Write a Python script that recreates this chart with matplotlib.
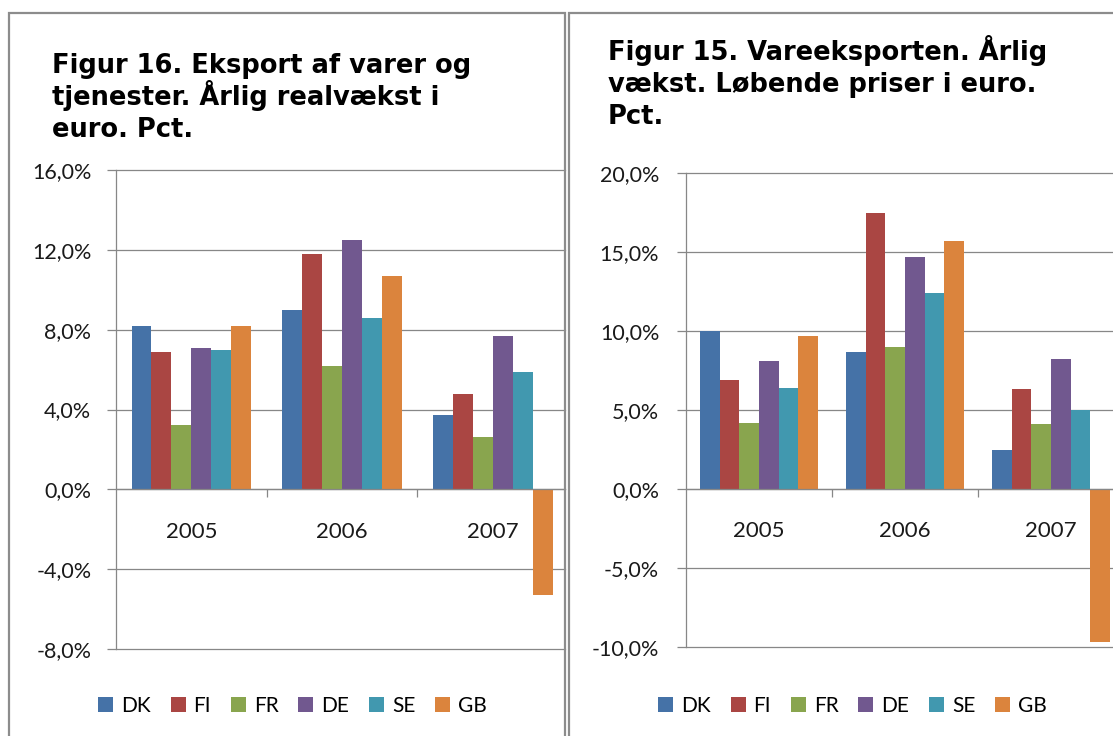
import matplotlib
matplotlib.use("Agg")
import matplotlib.pyplot as plt
import numpy as np
from matplotlib.patches import Rectangle
from matplotlib.ticker import FuncFormatter, FixedLocator

years = ["2005", "2006", "2007"]
countries = ["DK", "FI", "FR", "DE", "SE", "GB"]
colors = ["#4572A7", "#AA4643", "#89A54E", "#71588F", "#4198AF", "#DB843D"]

# Figur 16: eksport af varer og tjenester, aarlig realvaekst (pct.), one list per country
real_growth = [
    [8.2, 9.0, 3.7],    # DK
    [6.9, 11.8, 4.8],   # FI
    [3.2, 6.2, 2.6],    # FR
    [7.1, 12.5, 7.7],   # DE
    [7.0, 8.6, 5.9],    # SE
    [8.2, 10.7, -5.3],  # GB
]
real_ticks = [-8, -4, 0, 4, 8, 12, 16]

# Figur 15: vareeksporten, aarlig vaekst i loebende priser (pct.)
goods_growth = [
    [10.0, 8.7, 2.5],   # DK
    [6.9, 17.5, 6.3],   # FI
    [4.2, 9.0, 4.1],    # FR
    [8.1, 14.7, 8.2],   # DE
    [6.4, 12.4, 5.0],   # SE
    [9.7, 15.7, -9.7],  # GB
]
goods_ticks = [-10, -5, 0, 5, 10, 15, 20]

title16 = ["Figur 16. Eksport af varer og", "tjenester. Årlig realvækst i", "euro. Pct."]
title15 = ["Figur 15. Vareeksporten. Årlig", "vækst. Løbende priser i euro.", "Pct."]

W, H = 1113, 736
GRID = "#878787"
BORDER = "#8c8c8c"

plt.rcParams["font.family"] = ["Lato", "DejaVu Sans"]
fig = plt.figure(figsize=(W / 100, H / 100), dpi=100)


def frac(l, t, r, b):
    return [l / W, 1 - b / H, (r - l) / W, (b - t) / H]


def pct(v, pos):
    return ("%.1f%%" % v).replace(".", ",")


def draw_panel(rect, cat_px, values, ticks, bar_w, ypad, title, title_pos, legend_x, frame):
    ax = fig.add_axes(frac(*rect))
    x = np.arange(len(years))
    n = len(countries)
    for i in range(n):
        ax.bar(x + (i - (n - 1) / 2) * bar_w, values[i], bar_w,
               color=colors[i], label=countries[i], zorder=2)

    ax.set_xlim(-0.5, -0.5 + (rect[2] - rect[0]) / cat_px)
    ax.set_ylim(ticks[0], ticks[-1])
    ax.set_yticks(ticks)
    ax.yaxis.set_major_formatter(FuncFormatter(pct))
    ax.yaxis.grid(True, color=GRID, lw=0.9)
    for gl in ax.get_ygridlines():
        gl.set_clip_on(False)
    ax.set_axisbelow(True)

    for s in ["top", "right"]:
        ax.spines[s].set_visible(False)
    ax.spines["left"].set_color(GRID)
    ax.spines["left"].set_linewidth(0.9)
    ax.spines["bottom"].set_position(("data", 0))
    ax.spines["bottom"].set_color(GRID)
    ax.spines["bottom"].set_linewidth(0.9)

    ax.set_xticks(x)
    ax.set_xticklabels(years)
    ax.xaxis.set_minor_locator(FixedLocator([0.5, 1.5]))
    ax.tick_params(axis="x", which="major", length=0, pad=30.5, labelsize=16, labelcolor="#1a1a1a")
    ax.tick_params(axis="x", which="minor", length=5.4, width=0.9, color=GRID, direction="out")
    for lab in ax.get_xticklabels():
        lab.set_va("center")
    ax.tick_params(axis="y", length=6.8, width=0.9, color=GRID, direction="out",
                   pad=ypad, labelsize=15.5, labelcolor="#1a1a1a")

    ax.legend(loc="center", bbox_to_anchor=(legend_x / W, 1 - 706 / H),
              bbox_transform=fig.transFigure, ncol=6, frameon=False, fontsize=15,
              handlelength=0.72, handleheight=0.7, handletextpad=0.38,
              columnspacing=0.95, borderaxespad=0)

    # one text per title line so the line pitch stays even (32 px)
    for k, line in enumerate(title):
        fig.text(title_pos[0] / W, 1 - (title_pos[1] + 32 * k) / H, line,
                 fontfamily="DejaVu Sans", fontweight="bold", fontsize=18.5,
                 ha="left", va="baseline")

    l, t, r, b = frame
    fig.add_artist(Rectangle((l / W, 1 - b / H), (r - l) / W, (b - t) / H,
                             transform=fig.transFigure, fill=False,
                             edgecolor=BORDER, lw=1.6))
    return ax


draw_panel((116, 170, 565, 649), 150.7, real_growth, real_ticks, 0.1323, 11,
           title16, (52, 73), 292.5, (9, 13, 565, 760))
draw_panel((686, 173, 1113, 647), 146.0, goods_growth, goods_ticks, 0.1336, 12.5,
           title15, (608, 60), 852.5, (568.5, 12.5, 1140, 760))

fig.savefig("out.png", dpi=100)
